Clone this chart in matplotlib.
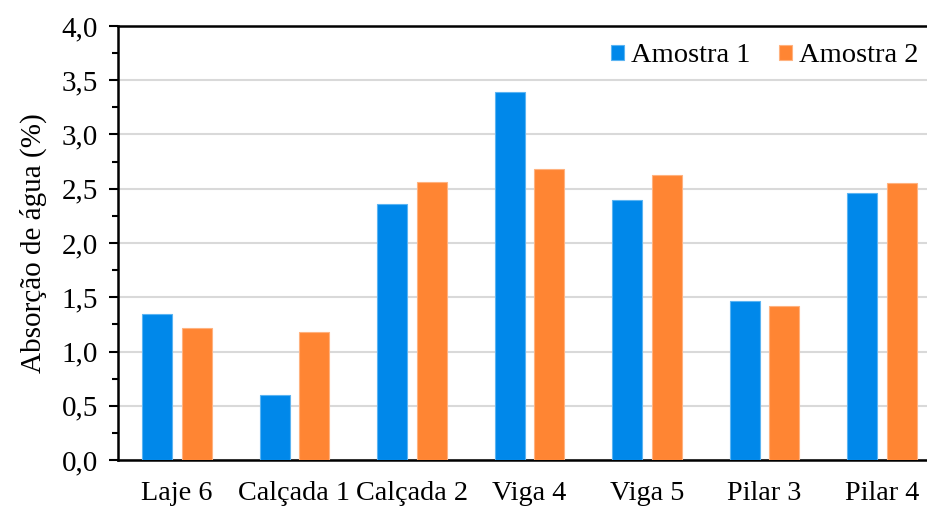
import matplotlib.pyplot as plt
import numpy as np
from matplotlib.ticker import MultipleLocator, FuncFormatter

# Dados
categorias = ["Laje 6", "Calçada 1", "Calçada 2", "Viga 4", "Viga 5", "Pilar 3", "Pilar 4"]
amostra1 = [1.35, 0.60, 2.36, 3.39, 2.40, 1.47, 2.46]
amostra2 = [1.22, 1.18, 2.56, 2.68, 2.63, 1.42, 2.55]

plt.rcParams['font.family'] = ['Liberation Serif', 'DejaVu Serif']

fig = plt.figure(figsize=(9.27, 5.07), dpi=100)
# the plot area runs past the right edge of the image, as in the original
ax = fig.add_axes([118 / 927, 1 - 460 / 507, (941 - 118) / 927, (460 - 26) / 507])

x = np.arange(len(categorias))
w = 0.255
ax.bar(x - 0.168, amostra1, w, color="#0088EA", edgecolor="#5BB4F2", linewidth=0.8,
       label="Amostra 1", zorder=3)
ax.bar(x + 0.168, amostra2, w, color="#FF8533", edgecolor="#FFB27F", linewidth=0.8,
       label="Amostra 2", zorder=3)

ax.set_xlim(-0.5, len(categorias) - 0.5)
ax.set_ylim(0, 4.0)
ax.yaxis.set_major_locator(MultipleLocator(0.5))
ax.yaxis.set_minor_locator(MultipleLocator(0.25))
ax.yaxis.set_major_formatter(FuncFormatter(lambda v, p: f"{v:.1f}".replace(".", ",")))
ax.grid(axis="y", color="#D9D9D9", linewidth=1.5, zorder=0)

ax.set_xticks(x)
ax.set_xticklabels(categorias)
ax.tick_params(axis="x", length=0, pad=15, labelsize=20.3)
ax.tick_params(axis="y", which="major", length=6.5, width=1.5, direction="out", labelsize=21, pad=8)
ax.tick_params(axis="y", which="minor", length=4.3, width=1.5, direction="out")

ax.spines["right"].set_visible(False)
for s in ["left", "bottom", "top"]:
    ax.spines[s].set_linewidth(1.8)
    ax.spines[s].set_color("black")

ax.set_ylabel("Absorção de água (%)", fontsize=21, labelpad=10)

fig.legend(loc="upper right", frameon=False, fontsize=20.5, handlelength=0.45, handleheight=0.45,
           handletextpad=0.25, columnspacing=1.0, ncol=2, borderaxespad=0,
           bbox_to_anchor=(930 / 927, 1 - 32 / 507))

fig.savefig("out.png", dpi=100)
